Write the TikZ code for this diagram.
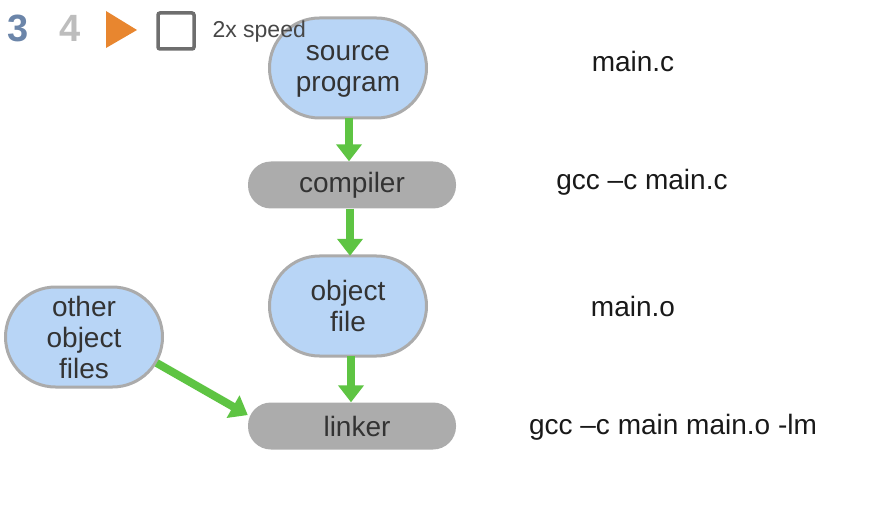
\documentclass[tikz,border=0pt]{standalone}
\usepackage{fontspec}
\setmainfont{Liberation Sans}
\usetikzlibrary{arrows.meta,calc}
\definecolor{bluefill}{HTML}{B8D5F6}
\definecolor{bordergray}{HTML}{ABABAB}
\definecolor{pillgray}{HTML}{ACACAC}
\definecolor{arrowgreen}{HTML}{5EC443}
\definecolor{orangeplay}{HTML}{E8862F}
\definecolor{numblue}{HTML}{6B85A9}
\definecolor{numgray}{HTML}{BDBDBD}
\definecolor{sqgray}{HTML}{6E6E6E}
\definecolor{txt}{HTML}{333333}
\tikzset{
  bigtext/.style={font=\fontsize{28}{31}\selectfont, text=txt, align=center},
  blobnode/.style={bigtext, minimum width=157pt, minimum height=100pt, inner sep=0pt},
  blobshape/.style={draw=bordergray, line width=3pt, fill=bluefill},
  pillnode/.style={bigtext, fill=pillgray, rounded corners=23pt,
    minimum width=208pt, minimum height=47pt, inner sep=0pt},
  flow/.style={draw=arrowgreen, line width=8pt,
    -{Triangle[width=25pt,length=17pt]}},
  cmdtext/.style={font=\fontsize{28}{32}\selectfont, text=black!90}
}
% blob outline centred at (#1,#2): 157 x 100, elliptic corners 50 x 50
\newcommand\blobpath[2]{%
  \path[blobshape] (#1,#2-50) -- ++(28.5,0)
    arc[start angle=90,end angle=0,x radius=50pt,y radius=50pt]
    arc[start angle=0,end angle=-90,x radius=50pt,y radius=50pt] -- ++(-57,0)
    arc[start angle=-90,end angle=-180,x radius=50pt,y radius=50pt]
    arc[start angle=180,end angle=90,x radius=50pt,y radius=50pt] -- cycle;}
\begin{document}
\begin{tikzpicture}[x=1pt,y=-1pt]
\useasboundingbox (0,0) rectangle (890,518);
% nodes
\blobpath{348}{68}
\node[blobnode] (src) at (348,71) {source\\program};
\node[pillnode] (comp) at (352,185) {compiler};
\blobpath{348}{306}
\node[blobnode] (obj) at (348,306) {object\\file};
\node[pillnode] (link) at (352,426) {\hspace*{10pt}linker};
\blobpath{84}{337}
\node[blobnode] (other) at (84,337) {other\\object\\files};
% controls
\node[font=\bfseries\fontsize{38}{42}\selectfont, text=numblue] (n3) at (18,28) {3};
\node[font=\bfseries\fontsize{38}{42}\selectfont, text=numgray] (n4) at (70,28) {4};
\fill[orangeplay] (106,11) -- (137,30) -- (106,48) -- cycle;
\draw[sqgray, line width=3.5pt, rounded corners=2pt] (158,13) rectangle (194,49);
\node[font=\fontsize{23}{27}\selectfont, text=black!72, anchor=west] (speed) at (209,32) {2x speed};
% arrows
\draw[flow] ($(src.south -| 349,0)+(0,-3)$) -- (comp.north -| 349,0);
\draw[flow] (comp.south -| 350,0) -- (obj.north -| 350,0);
\draw[flow] (obj.south -| 351,0) -- (link.north -| 351,0);
\draw[flow] ($(other.east)+(-6,26)$) -- (link.174);
% commands
\node[cmdtext] (c1) at (633,61) {main.c};
\node[cmdtext] (c2) at (642,182) {gcc –c main.c};
\node[cmdtext] (c3) at (633,306) {main.o};
\node[cmdtext] (c4) at (673,427) {gcc –c main main.o -lm};
\end{tikzpicture}
\end{document}
